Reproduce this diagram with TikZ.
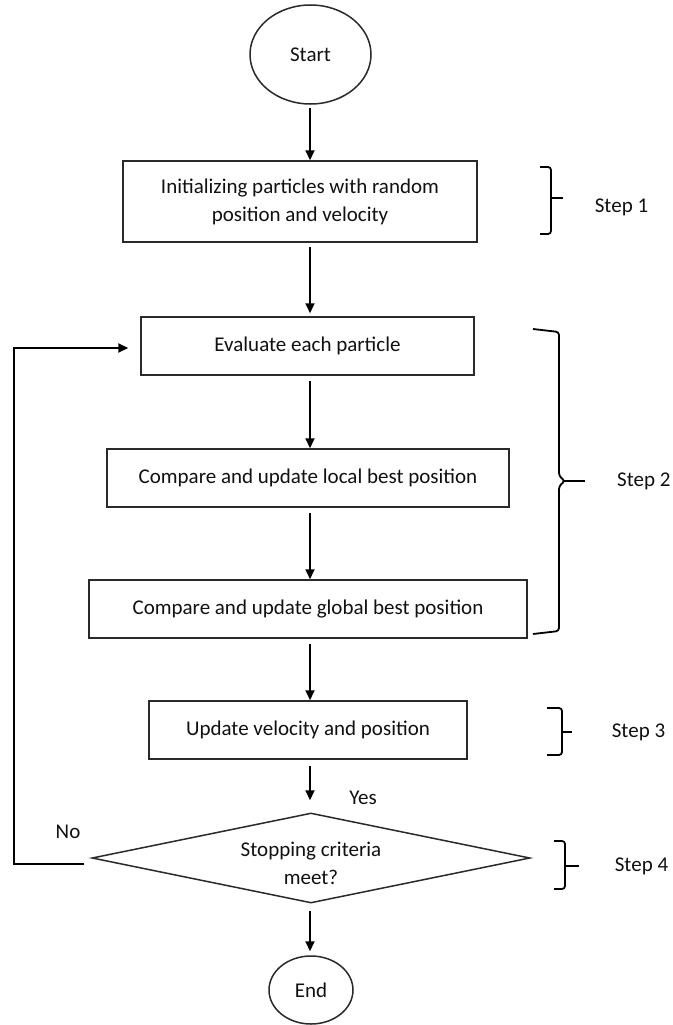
\documentclass[tikz,border=0pt]{standalone}
\usepackage{fontspec}
\setmainfont{Carlito}
\usetikzlibrary{shapes.geometric,arrows.meta}
\newcommand\txtfont{\fontsize{21}{28}\selectfont}
\definecolor{ink}{HTML}{111111}
\definecolor{edge}{HTML}{2A2A2A}
\tikzset{
  box/.style={draw=edge, line width=1.5pt, rectangle, inner sep=0pt, align=center, font=\txtfont, text=ink},
  term/.style={draw=edge, line width=1.5pt, ellipse, inner sep=0pt, font=\txtfont, text=ink},
  decide/.style={draw=edge, line width=1.5pt, diamond, aspect=4.87, inner sep=0pt},
  arr/.style={-{Triangle[length=10pt,width=9pt]}, line width=1.8pt, draw=black},
  brc/.style={line width=1.8pt, rounded corners=3pt, draw=black},
  lbl/.style={font=\txtfont, text=ink, inner sep=0pt, align=center}
}
\begin{document}
\begin{tikzpicture}[x=1pt,y=-1pt]
\fill[white] (0,0) rectangle (672,1025);
\useasboundingbox (0,0) rectangle (672,1025);
\coordinate (axis) at (310,0);
\coordinate (loop) at (14,600);

\node[term, minimum width=121pt, minimum height=99pt] (start) at (310.5,54.5) {Start};
\node[box, minimum width=354pt, minimum height=81pt] (init) at (300,201.5) {Initializing particles with random\\position and velocity};
\node[box, minimum width=333pt, minimum height=58pt] (eval) at (307.5,346) {Evaluate each particle};
\node[box, minimum width=402pt, minimum height=58pt] (local) at (308,478) {Compare and update local best position};
\node[box, minimum width=438pt, minimum height=58pt] (global) at (308,609) {Compare and update global best position};
\node[box, minimum width=318pt, minimum height=58pt] (upd) at (308,730) {Update velocity and position};
\node[decide, minimum width=438pt, minimum height=90pt] (dia) at (311,858) {};
\node[lbl] (diatext) at (311,863.5) {Stopping criteria\\meet?};
\node[term, minimum width=84pt, minimum height=68pt] (end) at (311,990) {End};

\draw[arr, shorten <=3pt] (start.south -| axis) -- (init.north -| axis);
\draw[arr, shorten <=4pt, shorten >=3pt] (init.south -| axis) -- (eval.north -| axis);
\draw[arr, shorten <=5pt] (eval.south -| axis) -- (local.north -| axis);
\draw[arr, shorten <=5pt] (local.south -| axis) -- (global.north -| axis);
\draw[arr, shorten <=5pt] (global.south -| axis) -- (upd.north -| axis);
\draw[arr, shorten <=6pt, shorten >=12pt] (upd.south -| axis) -- (dia.north -| axis);
\draw[arr, shorten <=7pt, shorten >=4pt] (dia.south -| axis) -- (end.north -| axis);
\draw[arr] ([xshift=-7pt,yshift=-6pt]dia.west) -| (loop) |- ([xshift=-12pt,yshift=-2pt]eval.west);

\node[lbl] (yes) at (363,798) {Yes};
\node[lbl] (no) at (68,832) {No};

% braces
\draw[brc] (540,167) -- (551,167) -- (551,234) -- (540,234);
\draw[line width=1.8pt] (551,198) -- (563,198);
\node[lbl] (s1) at (621.5,207) {Step 1};

\draw[brc] (533,329) -- (559,332) -- (559,476) -- (565,481) -- (559,486) -- (559,631) -- (533,634);
\draw[line width=1.8pt] (563,481) -- (585,481);
\node[lbl, anchor=west] (s2) at (617,481) {Step 2};

\draw[brc] (547,708) -- (562,708) -- (562,755) -- (547,755);
\draw[line width=1.8pt] (562,732) -- (572,732);
\node[lbl] (s3) at (638.5,732) {Step 3};

\draw[brc] (554,841) -- (565,841) -- (565,889) -- (554,889);
\draw[line width=1.8pt] (565,866) -- (579,866);
\node[lbl] (s4) at (641.5,866) {Step 4};
\end{tikzpicture}
\end{document}
